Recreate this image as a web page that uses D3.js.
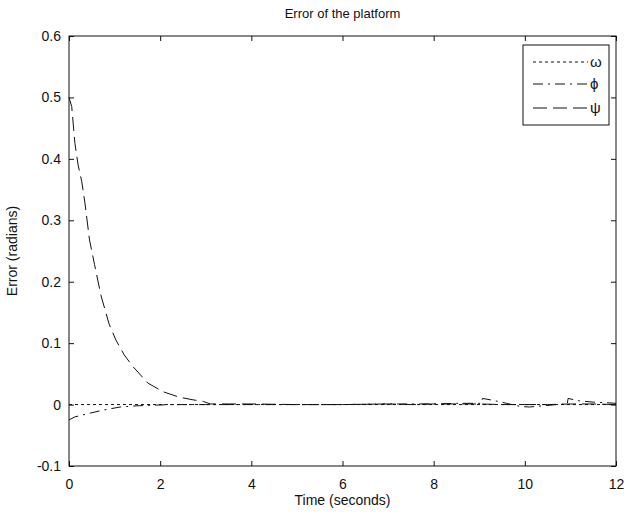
<!DOCTYPE html>
<html>
<head>
<meta charset="utf-8">
<script src="https://cdn.jsdelivr.net/npm/d3@7"></script>
<style>
html,body{margin:0;padding:0;background:#fff;}
svg{display:block;}
text{font-family:"Liberation Sans",Arial,sans-serif;fill:#111;}
</style>
</head>
<body>
<svg id="chart" width="626" height="514"></svg>
<script>
const title = "Error of the platform";
const xLabel = "Time (seconds)";
const yLabel = "Error (radians)";
const xTicks = [0,2,4,6,8,10,12];
const yTicks = [-0.1,0,0.1,0.2,0.3,0.4,0.5,0.6];
const yTickLabels = ["-0.1","0","0.1","0.2","0.3","0.4","0.5","0.6"];
const seriesNames = ["ω","ϕ","ψ"];

const tOmega = [0, 12];
const omega  = [0, 0];

const tPhi = [0,0.13,0.46,0.75,1.12,1.49,1.85,2.3,3,4,5,6,7,8,8.5,9.05,9.07,9.3,9.6,9.9,10.1,10.4,10.7,10.93,10.95,11.2,11.5,11.8,12];
const phi  = [-0.025,-0.02,-0.014,-0.009,-0.004,-0.002,-0.001,0,0,0,0,0,0.001,0.001,0.002,0.002,0.01,0.007,0.002,-0.003,-0.004,-0.002,0,0.001,0.01,0.006,0.004,0.003,0.002];

const tPsi = [0,0.06,0.13,0.2,0.28,0.35,0.45,0.56,0.7,0.88,1.03,1.21,1.4,1.73,2.06,2.42,2.7,2.95,3.1,3.5,4,5,6,7,7.5,8,8.5,9,9.5,10,10.5,11,11.5,12];
const psi  = [0.5,0.485,0.425,0.39,0.363,0.328,0.268,0.228,0.178,0.131,0.105,0.081,0.062,0.035,0.021,0.012,0.008,0.005,0.001,0.001,0.001,0,0,0.001,0,0.001,0.001,0.001,0,0,0,0.001,0.001,0];

const m = {left:69, right:616, top:36, bottom:466};
const svg = d3.select("#chart");
const x = d3.scaleLinear().domain([0,12]).range([m.left, m.right]);
const y = d3.scaleLinear().domain([-0.1,0.6]).range([m.bottom, m.top]);

svg.append("rect").attr("x",m.left).attr("y",m.top)
  .attr("width",m.right-m.left).attr("height",m.bottom-m.top)
  .attr("fill","#fff").attr("stroke","#111").attr("stroke-width",1);

const tl = 5;
const fmtY = d => yTickLabels[yTicks.indexOf(d)];
const xb = svg.append("g").attr("transform",`translate(0,${m.bottom})`)
  .call(d3.axisBottom(x).tickValues(xTicks).tickSize(-tl).tickPadding(tl+8).tickFormat(d3.format("d")));
const xt = svg.append("g").attr("transform",`translate(0,${m.top})`)
  .call(d3.axisTop(x).tickValues(xTicks).tickSize(-tl).tickFormat(""));
const yl = svg.append("g").attr("transform",`translate(${m.left},0)`)
  .call(d3.axisLeft(y).tickValues(yTicks).tickSize(-tl).tickPadding(tl+3).tickFormat(fmtY));
const yr = svg.append("g").attr("transform",`translate(${m.right},0)`)
  .call(d3.axisRight(y).tickValues(yTicks).tickSize(-tl).tickFormat(""));
[xb,xt,yl,yr].forEach(g=>{
  g.select(".domain").remove();
  g.selectAll("line").attr("stroke","#111");
  g.selectAll("text").style("font-size","14px").attr("fill","#111")
   .style("font-family","'Liberation Sans',Arial,sans-serif");
});

const line = (ts, vs) => d3.line().x((d,i)=>x(ts[i])).y(d=>y(d))(vs);

svg.append("path").attr("d",line(tOmega,omega)).attr("fill","none")
  .attr("stroke","#111").attr("stroke-width",1).attr("stroke-dasharray","3,3");
svg.append("path").attr("d",line(tPhi,phi)).attr("fill","none")
  .attr("stroke","#111").attr("stroke-width",1).attr("stroke-dasharray","10,5,2,5");
svg.append("path").attr("d",line(tPsi,psi)).attr("fill","none")
  .attr("stroke","#111").attr("stroke-width",1).attr("stroke-dasharray","14,6");

svg.append("text").attr("x",(m.left+m.right)/2).attr("y",18).attr("text-anchor","middle")
  .style("font-size","13px").text(title);
svg.append("text").attr("x",(m.left+m.right)/2).attr("y",505).attr("text-anchor","middle")
  .style("font-size","14px").text(xLabel);
svg.append("text").attr("transform",`translate(17,${(m.top+m.bottom)/2}) rotate(-90)`)
  .attr("text-anchor","middle").style("font-size","14px").text(yLabel);

const lg = svg.append("g");
lg.append("rect").attr("x",523).attr("y",45).attr("width",86).attr("height",80)
  .attr("fill","#fff").attr("stroke","#111").attr("stroke-width",1);
const dashes = ["3,3","10,5,2,5","14,6"];
const rowsY = [62,84,108];
seriesNames.forEach((n,i)=>{
  lg.append("line").attr("x1",533).attr("x2",588).attr("y1",rowsY[i]).attr("y2",rowsY[i])
    .attr("stroke","#111").attr("stroke-dasharray",dashes[i]);
  lg.append("text").attr("x",590).attr("y",rowsY[i]+5).style("font-size","15px").text(n);
});
</script>
</body>
</html>
